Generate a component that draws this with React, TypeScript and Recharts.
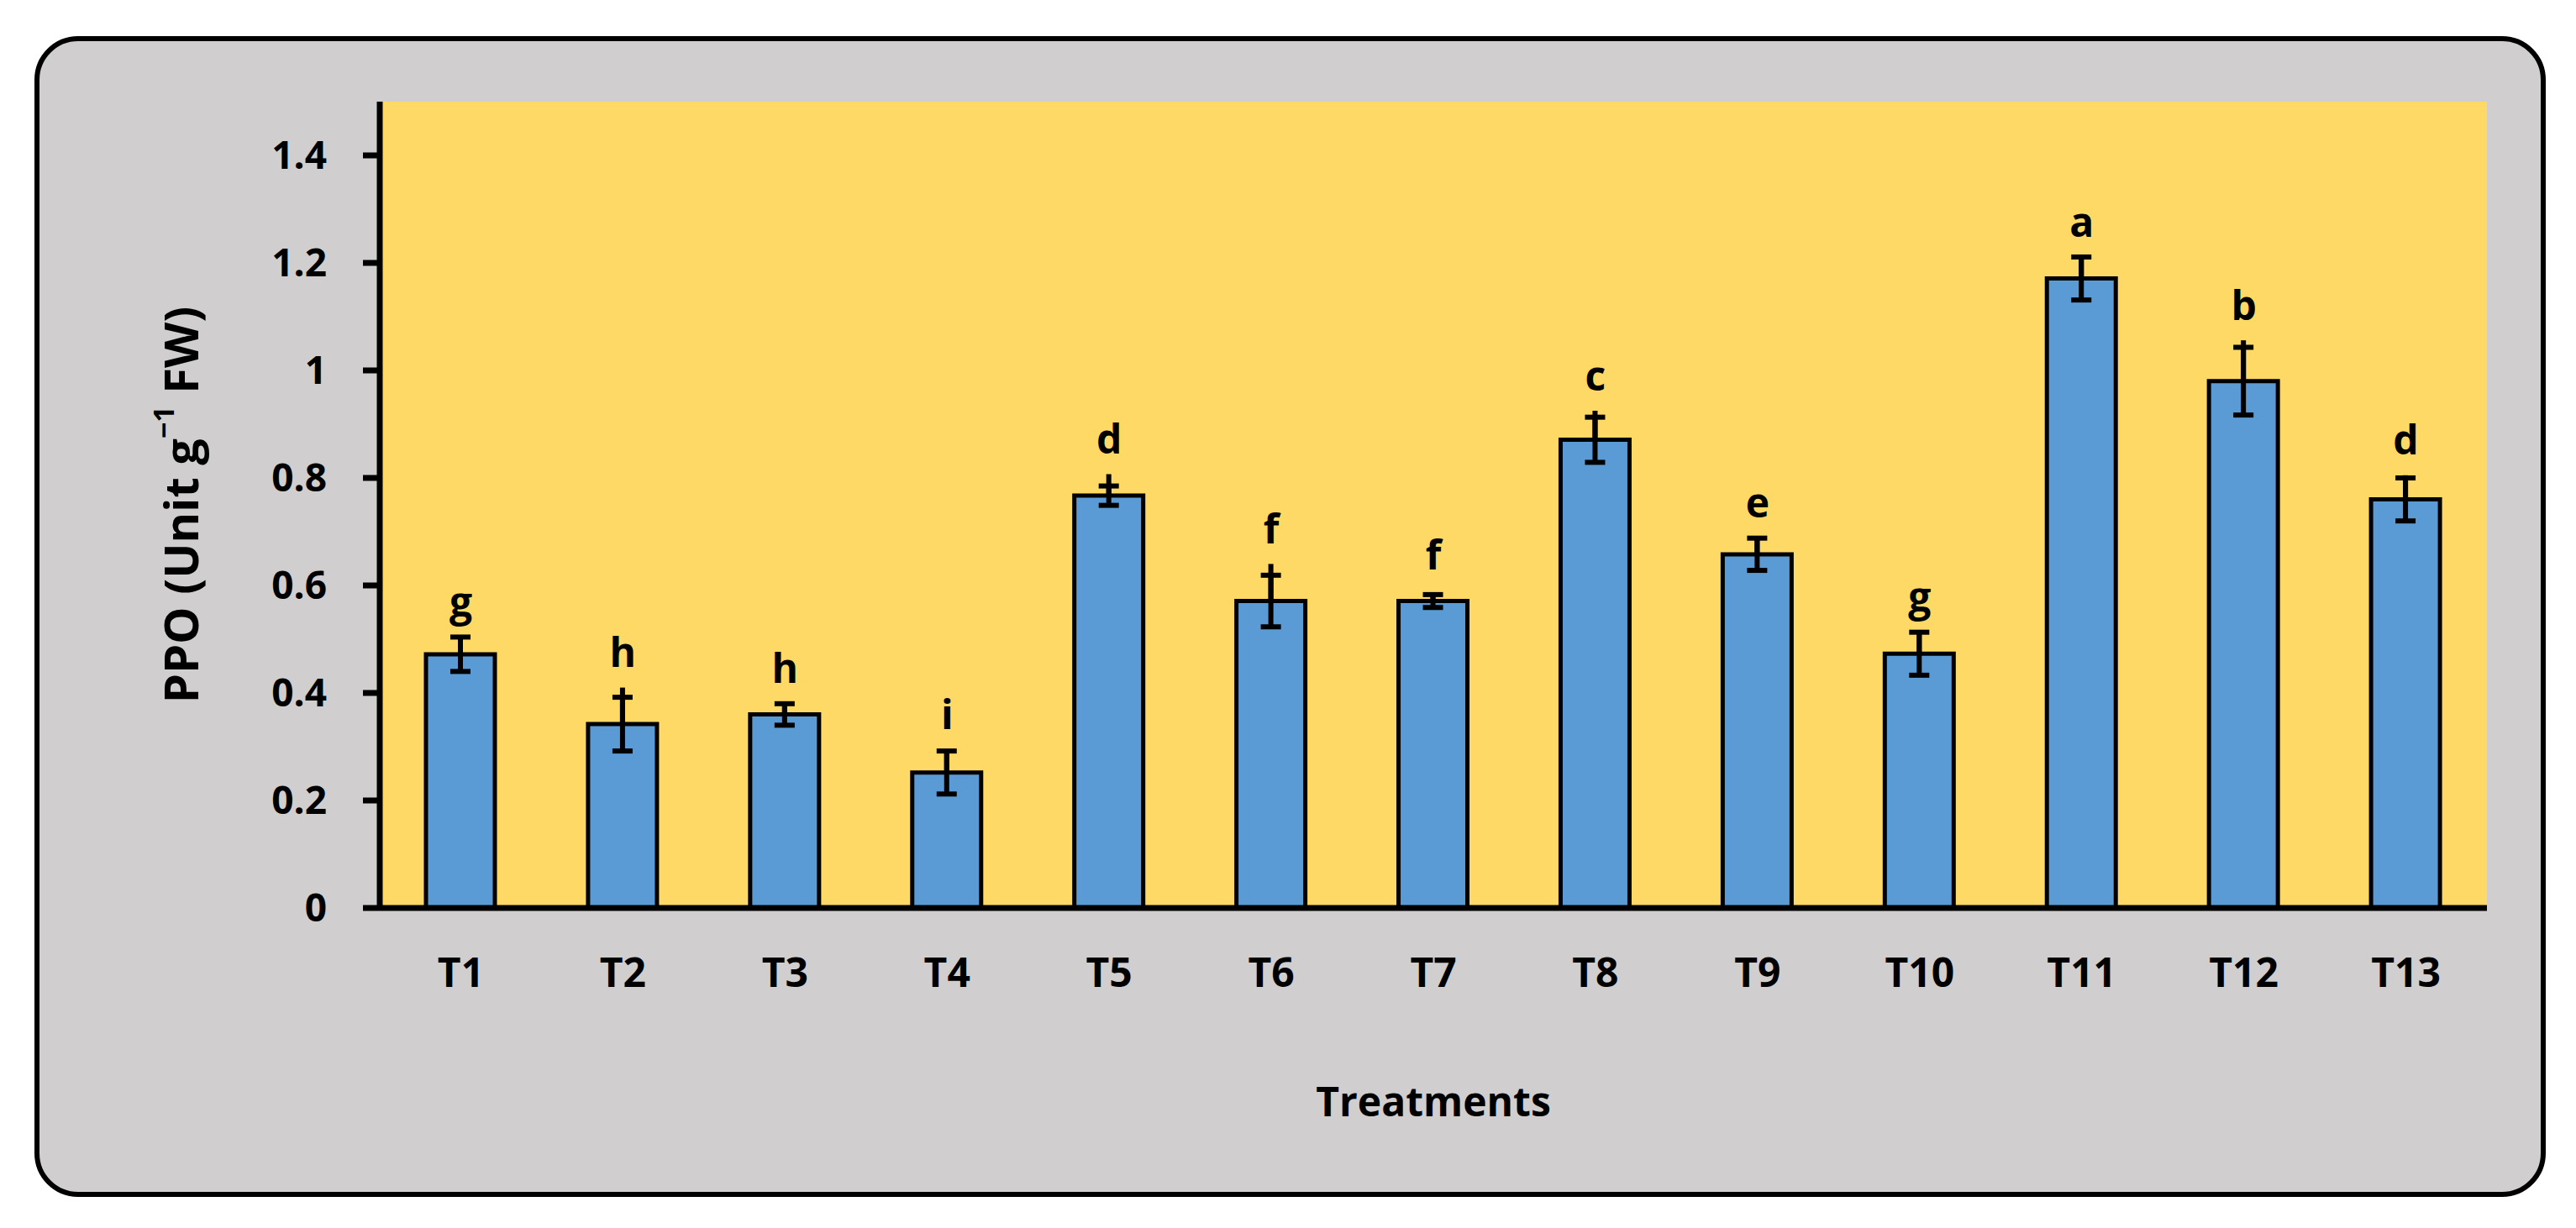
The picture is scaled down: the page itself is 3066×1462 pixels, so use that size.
import {
  Bar,
  CartesianGrid,
  ComposedChart,
  ErrorBar,
  LabelList,
  Line,
  XAxis,
  YAxis,
} from "recharts";

const treatments = ["T1", "T2", "T3", "T4", "T5", "T6", "T7", "T8", "T9", "T10", "T11", "T12", "T13"];
const ppo = [0.472, 0.342, 0.36, 0.252, 0.767, 0.571, 0.571, 0.871, 0.658, 0.473, 1.171, 0.98, 0.76];
const sem = [0.032, 0.05, 0.02, 0.04, 0.018, 0.048, 0.012, 0.042, 0.03, 0.04, 0.04, 0.063, 0.04];
// the whisker line runs a little past the cap on some bars
const whiskerUp = [0.032, 0.068, 0.02, 0.043, 0.04, 0.069, 0.012, 0.054, 0.03, 0.04, 0.04, 0.076, 0.045];
const letters = ["g", "h", "h", "i", "d", "f", "f", "c", "e", "g", "a", "b", "d"];
// baseline of each significance letter, in axis units
const letterAt = [0.542, 0.448, 0.418, 0.333, 0.845, 0.678, 0.63, 0.963, 0.726, 0.551, 1.249, 1.094, 0.843];
const yTicks = [0, 0.2, 0.4, 0.6, 0.8, 1, 1.2, 1.4];

const data = treatments.map((name, i) => ({
  name,
  ppo: ppo[i],
  sem: sem[i],
  whisker: [0, whiskerUp[i]],
  letterAt: letterAt[i],
  letter: letters[i],
}));

const font = "'Open Sans', 'DejaVu Sans', sans-serif";

const renderLetter = (props: any) => {
  const vb = props.viewBox || {};
  const x = props.x ?? vb.x;
  const y = props.y ?? vb.y;
  return (
    <text
      x={x}
      y={y}
      textAnchor="middle"
      fontFamily={font}
      fontWeight={700}
      fontSize={48}
      fill="#000"
    >
      {props.value}
    </text>
  );
};

const renderYLabel = (props: any) => {
  const vb = props.viewBox;
  const cx = vb.x + 214;
  const cy = vb.y + vb.height / 2;
  return (
    <text
      x={cx}
      y={cy}
      transform={`rotate(-90 ${cx} ${cy})`}
      textAnchor="middle"
      dominantBaseline="central"
      fontFamily={font}
      fontWeight={700}
      fontSize={56}
      fill="#000"
    >
      <tspan>PPO (Unit g</tspan>
      <tspan dy={-20} fontSize={34}>−1</tspan>
      <tspan dy={20}> FW)</tspan>
    </text>
  );
};

const renderXLabel = (props: any) => {
  const vb = props.viewBox;
  return (
    <text
      x={vb.x + vb.width / 2}
      y={vb.y + 248}
      textAnchor="middle"
      fontFamily={font}
      fontWeight={700}
      fontSize={48}
      fill="#000"
    >
      Treatments
    </text>
  );
};

export default function App() {
  return (
    <div
      style={{
        position: "absolute",
        left: 0,
        top: 0,
        width: 3066,
        height: 1462,
        background: "#fff",
      }}
    >
      <div
        style={{
          position: "absolute",
          left: 41,
          top: 43,
          width: 2989,
          height: 1382,
          boxSizing: "border-box",
          border: "6px solid #000",
          borderRadius: 52,
          background: "#D0CECE",
        }}
      />
      <div style={{ position: "absolute", left: 0, top: 0 }}>
        <ComposedChart
          width={3066}
          height={1462}
          data={data}
          margin={{ top: 121, right: 106, bottom: 0, left: 0 }}
        >
          <CartesianGrid
            horizontal={false}
            vertical={false}
            fill="#FFD966"
            fillOpacity={1}
            stroke="none"
          />
          <XAxis
            dataKey="name"
            height={381}
            tickSize={0}
            tickMargin={60}
            tickLine={false}
            axisLine={{ stroke: "#000", strokeWidth: 7 }}
            tick={{ fill: "#000", fontSize: 48, fontWeight: 700, fontFamily: font }}
            label={{ content: renderXLabel }}
          />
          <YAxis
            width={452}
            domain={[0, 1.5]}
            ticks={yTicks}
            tickSize={20}
            tickMargin={43}
            tickLine={{ stroke: "#000", strokeWidth: 7 }}
            axisLine={{ stroke: "#000", strokeWidth: 7 }}
            tick={{ fill: "#000", fontSize: 46, fontWeight: 700, fontFamily: font }}
            label={{ content: renderYLabel }}
          />
          <Bar
            dataKey="ppo"
            fill="#5B9BD5"
            stroke="#000"
            strokeWidth={5}
            barSize={82}
            isAnimationActive={false}
          >
            <ErrorBar
              dataKey="sem"
              direction="y"
              width={12}
              stroke="#000"
              strokeWidth={6}
              isAnimationActive={false}
            />
            <ErrorBar
              dataKey="whisker"
              direction="y"
              width={0}
              stroke="#000"
              strokeWidth={6}
              isAnimationActive={false}
            />
          </Bar>
          <Line
            dataKey="letterAt"
            stroke="none"
            dot={false}
            activeDot={false}
            legendType="none"
            isAnimationActive={false}
          >
            <LabelList dataKey="letter" content={renderLetter} />
          </Line>
        </ComposedChart>
      </div>
    </div>
  );
}
